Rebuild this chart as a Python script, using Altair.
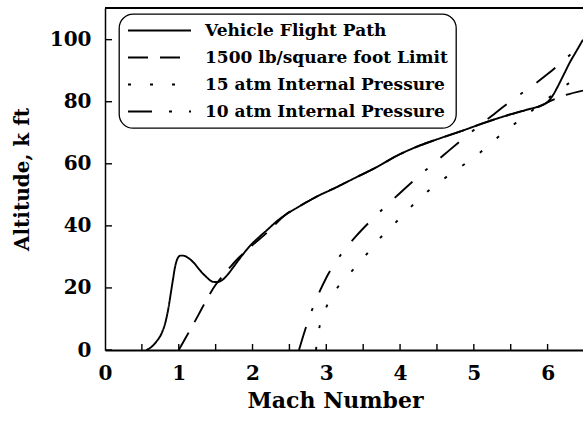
import altair as alt
import pandas as pd

# Series names in legend order
series_names = [
    "Vehicle Flight Path",
    "1500 lb/square foot Limit",
    "15 atm Internal Pressure",
    "10 atm Internal Pressure",
]

# Vehicle flight path (Mach, altitude in k ft)
vehicle_mach = [0.56, 0.62, 0.70, 0.77, 0.82, 0.86, 0.89, 0.92, 0.95, 0.98, 1.02, 1.06,
                1.12, 1.20, 1.29, 1.38, 1.46, 1.52, 1.58, 1.66, 1.74, 1.85, 1.96, 2.08,
                2.19, 2.32, 2.46, 2.60, 2.73, 2.90, 3.09, 3.36, 3.68, 3.99, 4.27, 4.54,
                4.86, 5.13, 5.41, 5.70, 5.91, 6.00, 6.07, 6.14, 6.22, 6.30, 6.39, 6.48]
vehicle_alt = [0.0, 0.8, 2.8, 5.5, 9.0, 13.5, 18.0, 22.5, 26.8, 29.3, 30.4, 30.4,
               29.8, 28.2, 25.6, 23.4, 22.0, 21.9, 22.4, 24.2, 26.7, 30.2, 33.4, 36.2,
               38.5, 41.3, 43.8, 45.8, 47.6, 49.8, 51.9, 55.1, 58.9, 63.0, 65.9, 68.2,
               70.8, 73.1, 75.3, 77.3, 78.8, 79.9, 82.0, 85.0, 88.8, 92.6, 96.3, 100.0]

# 1500 lb/ft^2 dynamic pressure limit
limit_mach = [1.00, 1.10, 1.20, 1.30, 1.40, 1.50, 1.60, 1.70, 1.80, 1.90, 2.00, 2.20,
              2.46, 2.60, 2.73, 2.90, 3.09, 3.36, 3.68, 3.99, 4.27, 4.54, 4.86, 5.13,
              5.41, 5.70, 5.91, 6.00, 6.20, 6.48]
limit_alt = [0.0, 4.2, 8.4, 12.8, 17.2, 21.0, 24.0, 26.8, 29.4, 31.7, 33.8, 37.9,
             43.8, 45.8, 47.6, 49.8, 51.9, 55.1, 58.9, 63.0, 65.9, 68.2, 70.8, 73.1,
             75.3, 77.3, 78.7, 79.8, 81.8, 83.6]

# 15 atm internal pressure boundary
p15_mach = [2.86, 2.90, 2.95, 3.00, 3.14, 3.32, 3.52, 3.70, 3.90, 4.11, 4.31, 4.54,
            4.76, 5.00, 5.22, 5.44, 5.66, 5.88, 6.10, 6.35, 6.48]
p15_alt = [0.0, 6.5, 10.8, 13.8, 19.7, 24.7, 30.1, 35.3, 40.1, 45.2, 49.8, 54.2,
           58.0, 62.0, 66.4, 70.8, 74.8, 78.8, 82.8, 87.0, 89.2]

# 10 atm internal pressure boundary
p10_mach = [2.63, 2.72, 2.80, 2.90, 3.00, 3.10, 3.20, 3.40, 3.60, 3.80, 4.00, 4.20,
            4.40, 4.60, 4.80, 5.00, 5.25, 5.50, 5.75, 6.00, 6.25, 6.48]
p10_alt = [0.0, 7.0, 12.5, 18.3, 23.3, 27.3, 30.8, 36.6, 41.6, 46.2, 50.6, 54.9,
           59.0, 63.0, 67.0, 70.9, 75.6, 80.2, 84.4, 88.9, 94.0, 98.8]

# Axis labels and tick marks
x_labels = [0, 1, 2, 3, 4, 5, 6]
x_ticks = [0.5, 1.0, 1.5, 2.0, 2.5, 3.0, 3.5, 4.0, 4.5, 5.0, 5.5, 6.0]
y_labels = [0, 20, 40, 60, 80, 100]

dash_patterns = [[1, 0], [20, 12], [3, 19], [24, 17, 3, 17]]

rows = []
for name, xs, ys in zip(series_names,
                        [vehicle_mach, limit_mach, p15_mach, p10_mach],
                        [vehicle_alt, limit_alt, p15_alt, p10_alt]):
    for i, (m, a) in enumerate(zip(xs, ys)):
        rows.append({"series": name, "mach": m, "alt": a, "order": i})
df = pd.DataFrame(rows)

W, H = 478, 342
FONT = "DejaVu Serif"

x_scale = alt.Scale(domain=[0, 6.48], nice=False, zero=False)
y_scale = alt.Scale(domain=[0, 110.2], nice=False)

lines = alt.Chart(df).mark_line(
    color="black", strokeWidth=1.9, clip=True, interpolate="monotone"
).encode(
    x=alt.X("mach:Q", scale=x_scale,
            axis=alt.Axis(values=x_labels, format="d", title="Mach Number",
                          labelFlush=False, labelPadding=13, domainWidth=2,
                          titlePadding=7, titleX=230, titleFontSize=22)),
    y=alt.Y("alt:Q", scale=y_scale,
            axis=alt.Axis(values=y_labels, format="d", title="Altitude,  k ft",
                          labelPadding=14, domainWidth=1.5, titlePadding=17,
                          titleFontSize=20)),
    strokeDash=alt.StrokeDash(
        "series:N",
        scale=alt.Scale(domain=series_names, range=dash_patterns),
        legend=alt.Legend(
            title=None, orient="none", legendX=14, legendY=6,
            symbolType="stroke", symbolSize=3969, symbolStrokeWidth=1.8,
            symbolStrokeColor="black", labelOffset=13, labelLimit=400,
            clipHeight=17, padding=8, rowPadding=9, cornerRadius=14,
            strokeColor="black", fillColor="white",
        ),
    ),
    order="order:Q",
)

xtick_layer = alt.Chart(pd.DataFrame({"mach": x_ticks})).mark_rule(
    color="black", strokeWidth=1.4
).encode(x=alt.X("mach:Q", scale=x_scale), y=alt.value(H), y2=alt.value(H - 6))

ytick_layer = alt.Chart(pd.DataFrame({"alt": y_labels})).mark_rule(
    color="black", strokeWidth=1.4
).encode(y=alt.Y("alt:Q", scale=y_scale), x=alt.value(0), x2=alt.value(7))

top_border = alt.Chart(pd.DataFrame({"alt": [110.2]})).mark_rule(
    color="black", strokeWidth=2
).encode(y=alt.Y("alt:Q", scale=y_scale), x=alt.value(0), x2=alt.value(W))

chart = alt.layer(lines, xtick_layer, ytick_layer, top_border).properties(
    width=W, height=H,
    autosize=alt.AutoSizeParams(type="none"),
    padding={"left": 105, "top": 8, "right": 0, "bottom": 71},
    background="white",
).configure_view(
    stroke=None
).configure_axis(
    ticks=False, grid=False, domainColor="black",
    labelFont=FONT, labelFontWeight="bold", labelFontSize=20, labelColor="black",
    titleFont=FONT, titleFontWeight="bold", titleColor="black",
).configure_legend(
    labelFont=FONT, labelFontWeight="bold", labelFontSize=17, labelColor="black",
    strokeWidth=1.3,
)

chart.save("out.html", embed_options={"renderer": "svg", "actions": False})
